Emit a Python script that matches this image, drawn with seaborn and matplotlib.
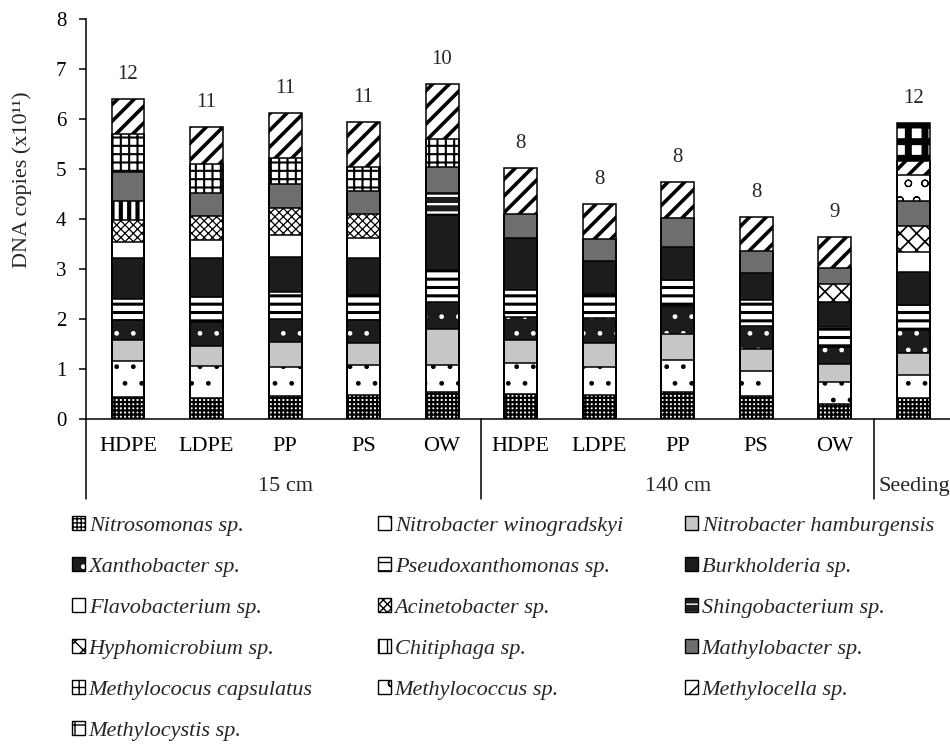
import numpy as np
import pandas as pd
import matplotlib
matplotlib.use("Agg")
import matplotlib.pyplot as plt
import matplotlib.transforms as mtransforms
from matplotlib.patches import Patch
from matplotlib.legend_handler import HandlerTuple
import seaborn as sns

# ---- data: DNA copies (x10^11) per taxon, one value per sample ----
samples = ["HDPE", "LDPE", "PP", "PS", "OW", "HDPE", "LDPE", "PP", "PS", "OW", ""]
groups = ["15 cm", "140 cm", "Seeding"]
group_sizes = [5, 5, 1]

species = [
    "Nitrosomonas sp.", "Nitrobacter winogradskyi", "Nitrobacter hamburgensis",
    "Xanthobacter sp.", "Pseudoxanthomonas sp.", "Burkholderia sp.",
    "Flavobacterium sp.", "Acinetobacter sp.", "Shingobacterium sp.",
    "Hyphomicrobium sp.", "Chitiphaga sp.", "Mathylobacter sp.",
    "Methylococus capsulatus", "Methylococcus sp.", "Methylocella sp.",
    "Methylocystis sp.",
]

nitrosomonas      = [0.44, 0.42, 0.47, 0.49, 0.55, 0.51, 0.49, 0.55, 0.47, 0.31, 0.42]
n_winogradskyi    = [0.73, 0.65, 0.58, 0.60, 0.54, 0.61, 0.56, 0.64, 0.50, 0.44, 0.47]
n_hamburgensis    = [0.42, 0.40, 0.50, 0.43, 0.71, 0.47, 0.47, 0.51, 0.44, 0.36, 0.43]
xanthobacter      = [0.40, 0.48, 0.45, 0.47, 0.55, 0.46, 0.51, 0.57, 0.46, 0.34, 0.47]
pseudoxanthomonas = [0.41, 0.50, 0.55, 0.50, 0.64, 0.54, 0.48, 0.52, 0.52, 0.40, 0.50]
burkholderia      = [0.82, 0.77, 0.70, 0.74, 1.10, 1.03, 0.66, 0.66, 0.53, 0.49, 0.66]
flavobacterium    = [0.33, 0.37, 0.44, 0.40, 0.00, 0.00, 0.00, 0.00, 0.00, 0.00, 0.40]
acinetobacter     = [0.44, 0.48, 0.53, 0.48, 0.00, 0.00, 0.00, 0.00, 0.00, 0.00, 0.00]
shingobacterium   = [0.00, 0.00, 0.00, 0.00, 0.44, 0.00, 0.00, 0.00, 0.00, 0.00, 0.00]
hyphomicrobium    = [0.00, 0.00, 0.00, 0.00, 0.00, 0.00, 0.00, 0.00, 0.00, 0.36, 0.52]
chitiphaga        = [0.38, 0.00, 0.00, 0.00, 0.00, 0.00, 0.00, 0.00, 0.00, 0.00, 0.00]
mathylobacter     = [0.58, 0.46, 0.49, 0.46, 0.51, 0.48, 0.43, 0.57, 0.45, 0.33, 0.50]
m_capsulatus      = [0.75, 0.58, 0.51, 0.48, 0.56, 0.00, 0.00, 0.00, 0.00, 0.00, 0.00]
methylococcus     = [0.00, 0.00, 0.00, 0.00, 0.00, 0.00, 0.00, 0.00, 0.00, 0.00, 0.52]
methylocella      = [0.70, 0.73, 0.91, 0.90, 1.10, 0.93, 0.70, 0.73, 0.68, 0.61, 0.28]
methylocystis     = [0.00, 0.00, 0.00, 0.00, 0.00, 0.00, 0.00, 0.00, 0.00, 0.00, 0.76]

layers = [nitrosomonas, n_winogradskyi, n_hamburgensis, xanthobacter,
          pseudoxanthomonas, burkholderia, flavobacterium, acinetobacter,
          shingobacterium, hyphomicrobium, chitiphaga, mathylobacter,
          m_capsulatus, methylococcus, methylocella, methylocystis]

# ---- fill styles: (face, hatch, hatch colour, hatch linewidth) ----
styles = [
    ("white", "++++", "black", 1.6),
    ("white", ".", "black", 1.0),
    ("#c6c6c6", "", "black", 1.0),
    ("#1c1c1c", ".", "white", 1.0),
    ("white", "--", "black", 2.2),
    ("#1c1c1c", "", "black", 1.0),
    ("white", "", "black", 1.0),
    ("white", "xxxx", "black", 0.9),
    ("#1c1c1c", "--", "white", 1.6),
    ("white", "xx", "black", 1.2),
    ("white", "||", "black", 3.0),
    ("#6e6e6e", "", "black", 1.0),
    ("white", "++", "black", 1.5),
    ("white", "o", "black", 0.8),
    ("white", "//", "black", 2.6),
    ("white", "+", "black", 5.0),
]

sns.set_theme(style="ticks")
plt.rcParams["font.family"] = ["Liberation Serif", "DejaVu Serif"]
plt.rcParams["axes.linewidth"] = 1.1

W, H = 950, 748
fig = plt.figure(figsize=(W / 100, H / 100), dpi=100)
ax = fig.add_axes([86 / W, 1 - 419.3 / H, 1 - 86 / W, 400 / H])

sample_ids = []
for g, n in zip(groups, group_sizes):
    sample_ids += [f"{g} {k}" for k in range(n)]

values = np.array(layers, dtype=float)
cum = values.cumsum(axis=0)
bar_w = 0.42


def style_patch(p, face, hatch, hcolor, hlw):
    p.set_facecolor(face)
    p.set_edgecolor(hcolor)
    p.set_linewidth(0)
    p.set_hatch(hatch if hatch else None)
    if hasattr(p, "set_hatch_linewidth"):
        p.set_hatch_linewidth(hlw)


# filled layers: cumulative heights drawn from the top layer downwards
for k in reversed(range(len(layers))):
    face, hatch, hcolor, hlw = styles[k]
    df = pd.DataFrame({"sample": sample_ids, "copies": cum[k]})
    n0 = len(ax.patches)
    with plt.rc_context({"hatch.linewidth": hlw, "hatch.color": hcolor}):
        sns.barplot(data=df, x="sample", y="copies", order=sample_ids,
                    width=bar_w, color="white", saturation=1,
                    errorbar=None, ax=ax)
        for i, p in enumerate(ax.patches[n0:]):
            style_patch(p, face, hatch, hcolor, hlw)
            p.set_zorder(2)
            if values[k, i] == 0:
                p.set_visible(False)

# segment outlines
for k in reversed(range(len(layers))):
    df = pd.DataFrame({"sample": sample_ids, "copies": cum[k]})
    n0 = len(ax.patches)
    sns.barplot(data=df, x="sample", y="copies", order=sample_ids,
                width=bar_w, color="black", saturation=1, fill=False,
                errorbar=None, ax=ax)
    for i, p in enumerate(ax.patches[n0:]):
        p.set_fill(False)
        p.set_hatch(None)
        p.set_edgecolor("black")
        p.set_linewidth(1.1)
        p.set_zorder(3)
        if values[k, i] == 0:
            p.set_visible(False)

# number of taxa above each bar
totals = cum[-1]
counts = (values > 0).sum(axis=0)
for i, (t, c) in enumerate(zip(totals, counts)):
    ax.annotate(f"{c}", (i, t), xytext=(0, 11), textcoords="offset points",
                ha="center", va="bottom", fontsize=15)

# axes
n = len(sample_ids)
x_left = -0.535
ax.set_xlim(x_left, n - 0.53)
ax.set_ylim(0, 8)
ax.set_yticks(range(0, 9))
ax.tick_params(axis="y", labelsize=15, length=5, width=1.1, direction="out", pad=9)
ax.set_xticks(range(n))
ax.set_xticklabels(samples, fontsize=16)
ax.tick_params(axis="x", length=0, pad=13)
ax.set_xlabel("")
ax.set_ylabel("DNA copies (x10¹¹)", fontsize=16)
ax.yaxis.set_label_coords(-0.062, 0.6)
sns.despine(ax=ax)
ax.spines["left"].set_color("black")
ax.spines["bottom"].set_color("black")
ax.tick_params(colors="black")

# group separators and group labels below the axis
trans = mtransforms.blended_transform_factory(ax.transData, ax.transAxes)
edges = [x_left] + list(np.cumsum(group_sizes)[:-1] - 0.5)
for e in edges:
    ax.plot([e, e], [0, -0.2], color="black", lw=1.1, transform=trans,
            clip_on=False)
start = 0
for g, size in zip(groups, group_sizes):
    if size > 1:
        ax.text(start + (size - 1) / 2, -0.169, g, transform=trans,
                ha="center", va="center", fontsize=16)
    else:
        ax.text(start - 0.5 + 0.065, -0.169, g, transform=trans,
                ha="left", va="center", fontsize=16)
    start += size

# legend: three columns laid out row by row
handles = []
for face, hatch, hcolor, hlw in styles:
    f = Patch(facecolor=face, edgecolor=hcolor, hatch=hatch if hatch else None,
              linewidth=0)
    if hasattr(f, "set_hatch_linewidth"):
        f.set_hatch_linewidth(min(hlw, 1.2))
    o = Patch(facecolor="none", edgecolor="black", linewidth=1.0)
    handles.append((f, o))

col_x = [72 / W, 378 / W, 685 / W]
top_y = 1 - 516 / H
for c in range(3):
    idx = list(range(c, len(species), 3))
    leg = fig.legend([handles[i] for i in idx], [species[i] for i in idx],
                     loc="upper left", bbox_to_anchor=(col_x[c], top_y),
                     bbox_transform=fig.transFigure, frameon=False,
                     prop={"family": "Liberation Serif", "style": "italic",
                           "size": 16},
                     handlelength=0.6, handleheight=0.6, handletextpad=0.15,
                     labelspacing=0.95, borderpad=0, borderaxespad=0,
                     handler_map={tuple: HandlerTuple(ndivide=1, pad=0)})

fig.savefig("out.png", dpi=100)
